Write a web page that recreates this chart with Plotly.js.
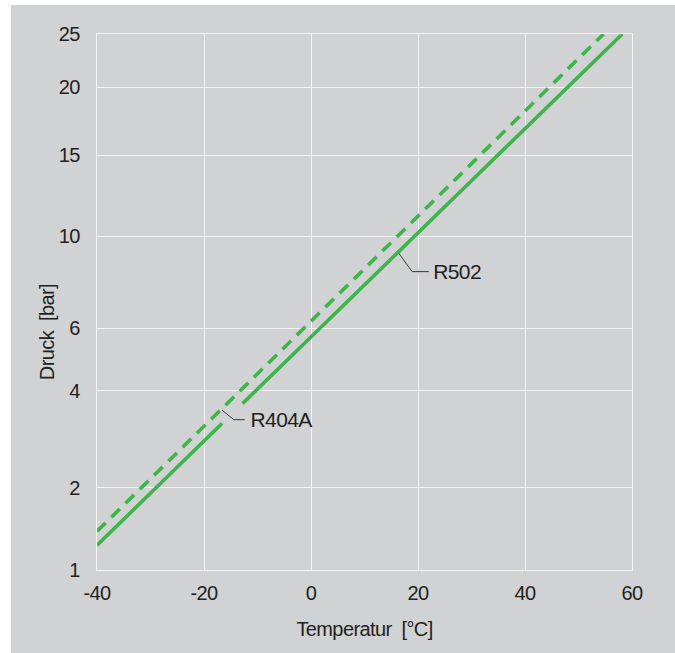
<!DOCTYPE html>
<html>
<head>
<meta charset="utf-8">
<script src="https://cdn.plot.ly/plotly-3.0.1.min.js"></script>
<style>
  html, body { margin: 0; padding: 0; background: #ffffff; }
  #chart { width: 675px; height: 653px; }
  /* tighter letter fit for the narrow type of the chart */
  #chart svg text { letter-spacing: -0.6px; }
</style>
</head>
<body>
<div id="chart"></div>
<script>
// Saturation pressure (absolute, bar) of two refrigerants against temperature (°C)
const tempR502   = [-40, -30, -20, -10, 0, 10, 20, 30, 40, 50, 58.2];
const pressR502  = [1.30, 1.94, 2.96, 4.05, 5.72, 7.88, 10.20, 13.41, 16.95, 21.0, 25];

const tempR404A  = [-40, -30, -20, -10, 0, 10, 20, 30, 40, 50, 54.7];
const pressR404A = [1.47, 2.18, 3.26, 4.53, 6.30, 8.58, 11.23, 14.47, 18.25, 22.71, 25];

// Pressure axis: labelled pressures and where each sits on the axis (0 = bottom, 100 = top)
const pressureTicks = [1, 2, 4, 6, 10, 15, 20, 25];
const pressureGraduation = [0, 15.36, 33.47, 45.12, 62.29, 77.41, 90.03, 100];

const tempTicks = [-40, -20, 0, 20, 40, 60];

// Map a pressure onto the graduated pressure axis
function toScale(p) {
  const t = pressureTicks, g = pressureGraduation;
  let i = 0;
  while (i < t.length - 2 && p > t[i + 1]) i++;
  return g[i] + (p - t[i]) / (t[i + 1] - t[i]) * (g[i + 1] - g[i]);
}

// Position on the axis of a series at temperature T
function seriesAt(temps, press, T) {
  let i = 0;
  while (i < temps.length - 2 && T > temps[i + 1]) i++;
  const a = toScale(press[i]), b = toScale(press[i + 1]);
  return a + (T - temps[i]) / (temps[i + 1] - temps[i]) * (b - a);
}

const GREEN = '#3db54a';
const PANEL = '#d1d2d4';
const INK = '#231f20';
const FONT = '"Liberation Sans", Arial, sans-serif';

const traces = [
  {
    name: 'R404A',
    x: tempR404A,
    y: pressR404A.map(toScale),
    customdata: pressR404A,
    mode: 'lines',
    line: { color: GREEN, width: 3.6, dash: '12px,8px' },
    hovertemplate: 'R404A<br>%{x} °C: %{customdata} bar<extra></extra>'
  },
  {
    name: 'R502',
    x: tempR502,
    y: pressR502.map(toScale),
    customdata: pressR502,
    mode: 'lines',
    line: { color: GREEN, width: 3.6 },
    hovertemplate: 'R502<br>%{x} °C: %{customdata} bar<extra></extra>'
  }
];

// axis units per screen pixel (535 px for 100 °C, 536 px for the full graduation)
const DEG_PX = 100 / 535;
const SCL_PX = 100 / 536;

// Bent leader line from a curve to its label
function leader(temps, press, T0, dxDiag, dyDiag, dxFlat) {
  const s0 = seriesAt(temps, press, T0);
  const x1 = T0 + dxDiag * DEG_PX, y1 = s0 - dyDiag * SCL_PX;
  const x2 = x1 + dxFlat * DEG_PX;
  return {
    start: [T0, s0], end: [x2, y1],
    path: `M ${T0},${s0 - 1.6 * SCL_PX} L ${x1},${y1} L ${x2},${y1}`
  };
}

const lead502 = leader(tempR502, pressR502, 16.4, 13.4, 20, 16.6);
const lead404 = leader(tempR404A, pressR404A, -16.6, 11.6, 11, 11);

// gap in the R502 curve where the R404A leader passes
const gapT = [-16.6, -12.8];

const LABEL_FONT = { family: FONT, size: 21, color: INK };
const AXIS_FONT = { family: FONT, size: 20, color: INK };

const shapes = [
  { type: 'rect', xref: 'paper', yref: 'paper', layer: 'below',
    x0: -0.161, x1: 1.09, y0: -0.16, y1: 1.0541,
    fillcolor: PANEL, line: { width: 0 } },
  { type: 'line', xref: 'x', yref: 'y', layer: 'above',
    x0: gapT[0], y0: seriesAt(tempR502, pressR502, gapT[0]),
    x1: gapT[1], y1: seriesAt(tempR502, pressR502, gapT[1]),
    line: { color: PANEL, width: 7 } },
  // halo behind the flat part of the R502 leader
  { type: 'line', xref: 'x', yref: 'y', layer: 'above',
    x0: lead502.end[0] - 16.6 * DEG_PX, x1: lead502.end[0], y0: lead502.end[1], y1: lead502.end[1],
    line: { color: PANEL, width: 8 } },
  { type: 'path', xref: 'x', yref: 'y', layer: 'above', path: lead502.path,
    line: { color: '#3a3a3a', width: 1 } },
  { type: 'path', xref: 'x', yref: 'y', layer: 'above', path: lead404.path,
    line: { color: '#3a3a3a', width: 1 } }
];

const annotations = [
  { text: 'R502', xref: 'x', yref: 'y', x: lead502.end[0] + 1 * DEG_PX, y: lead502.end[1],
    xanchor: 'left', yanchor: 'middle', showarrow: false, font: LABEL_FONT },
  { text: 'R404A', xref: 'x', yref: 'y', x: lead404.end[0] + 2 * DEG_PX, y: lead404.end[1],
    xanchor: 'left', yanchor: 'middle', showarrow: false, font: LABEL_FONT },
  { text: 'Druck\u00a0\u00a0[bar]', xref: 'paper', yref: 'paper',
    x: -0.095, y: 0.443, xanchor: 'center', yanchor: 'middle', textangle: -90,
    showarrow: false, font: AXIS_FONT }
];

const layout = {
  width: 675,
  height: 653,
  margin: { l: 97, r: 43, t: 34, b: 83 },
  paper_bgcolor: '#ffffff',
  plot_bgcolor: PANEL,
  showlegend: false,
  font: AXIS_FONT,
  xaxis: {
    range: [-40, 60],
    tickvals: tempTicks,
    ticktext: tempTicks.map(String),
    showgrid: true, gridcolor: '#f4f4f4', gridwidth: 1.2,
    zeroline: false,
    showline: true, mirror: true, linecolor: '#f4f4f4', linewidth: 1.2,
    ticks: '', ticklabelstandoff: 5,
    tickfont: AXIS_FONT,
    title: { text: 'Temperatur\u00a0\u00a0[°C]', standoff: 18, font: AXIS_FONT },
    fixedrange: true
  },
  yaxis: {
    range: [0, 100],
    tickvals: pressureTicks.map(toScale),
    ticktext: pressureTicks.map(String),
    showgrid: true, gridcolor: '#f4f4f4', gridwidth: 1.2,
    zeroline: false,
    showline: true, mirror: true, linecolor: '#f4f4f4', linewidth: 1.2,
    ticks: '', ticklabelstandoff: 12,
    tickfont: AXIS_FONT,
    fixedrange: true
  },
  shapes: shapes,
  annotations: annotations
};

Plotly.newPlot('chart', traces, layout, { displayModeBar: false });
</script>
</body>
</html>
